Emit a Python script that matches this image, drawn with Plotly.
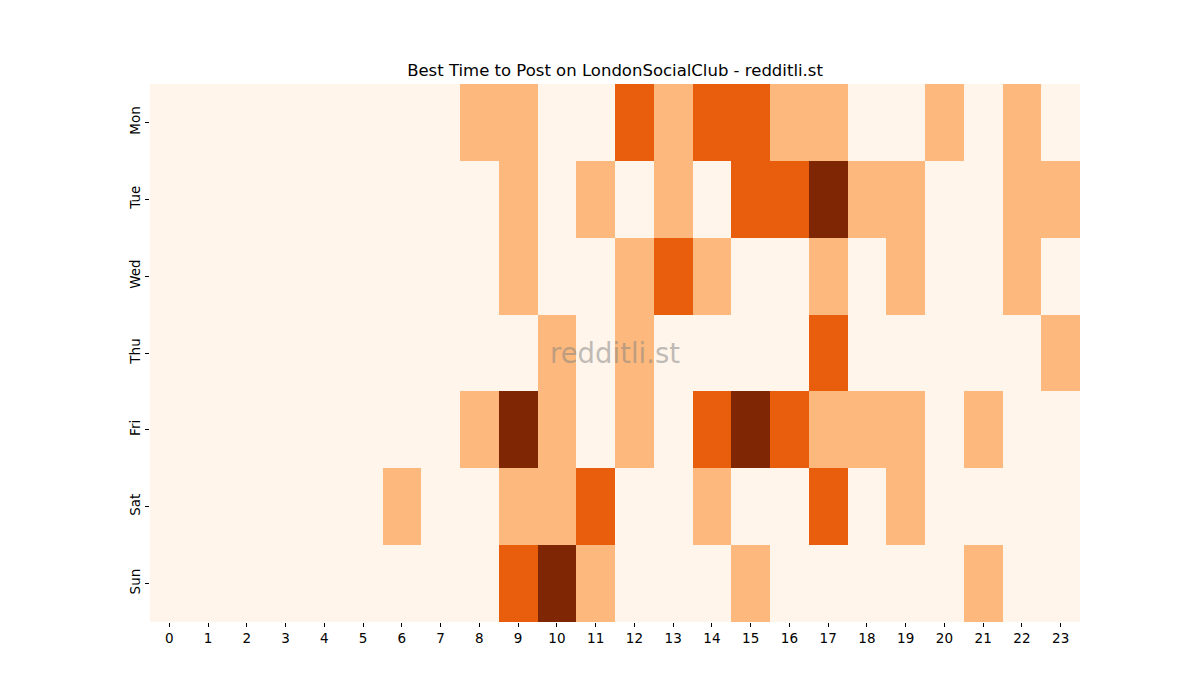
import plotly.graph_objects as go

days = ["Mon", "Tue", "Wed", "Thu", "Fri", "Sat", "Sun"]
hours = list(range(24))

# activity level per hour (0-3)
mon = [0, 0, 0, 0, 0, 0, 0, 0, 1, 1, 0, 0, 2, 1, 2, 2, 1, 1, 0, 0, 1, 0, 1, 0]
tue = [0, 0, 0, 0, 0, 0, 0, 0, 0, 1, 0, 1, 0, 1, 0, 2, 2, 3, 1, 1, 0, 0, 1, 1]
wed = [0, 0, 0, 0, 0, 0, 0, 0, 0, 1, 0, 0, 1, 2, 1, 0, 0, 1, 0, 1, 0, 0, 1, 0]
thu = [0, 0, 0, 0, 0, 0, 0, 0, 0, 0, 1, 0, 1, 0, 0, 0, 0, 2, 0, 0, 0, 0, 0, 1]
fri = [0, 0, 0, 0, 0, 0, 0, 0, 1, 3, 1, 0, 1, 0, 2, 3, 2, 1, 1, 1, 0, 1, 0, 0]
sat = [0, 0, 0, 0, 0, 0, 1, 0, 0, 1, 1, 2, 0, 0, 1, 0, 0, 2, 0, 1, 0, 0, 0, 0]
sun = [0, 0, 0, 0, 0, 0, 0, 0, 0, 2, 3, 1, 0, 0, 0, 1, 0, 0, 0, 0, 0, 1, 0, 0]

z = [mon, tue, wed, thu, fri, sat, sun]

colors = ["#fff5eb", "#fdb97d", "#e95e0d", "#7f2704"]
scale = []
for i, c in enumerate(colors):
    scale.append([i / 4, c])
    scale.append([(i + 1) / 4, c])

fig = go.Figure(go.Heatmap(
    z=z, x=hours, y=days,
    colorscale=scale, zmin=-0.5, zmax=3.5,
    showscale=False, hoverongaps=False,
))

font = "DejaVu Sans, sans-serif"
fig.update_layout(
    width=1200, height=700,
    margin=dict(l=142, r=128, t=76, b=86),
    paper_bgcolor="white", plot_bgcolor="white",
    font=dict(family=font, size=13.5, color="black"),
    title=dict(text="Best Time to Post on LondonSocialClub - redditli.st",
               x=(142 + 465) / 1200, xanchor="center", y=1 - 62 / 700,
               yanchor="middle", font=dict(size=16.5, family=font)),
)
fig.update_xaxes(tickmode="array", tickvals=hours, ticks="outside", ticklen=4,
                 tickcolor="black", showgrid=False, zeroline=False,
                 range=[-0.5, 23.5])
fig.update_yaxes(autorange="reversed", ticks="outside", ticklen=4,
                 tickcolor="black", tickangle=-90, showgrid=False,
                 zeroline=False)

fig.add_annotation(text="redditli.st", xref="paper", yref="paper",
                   x=0.5, y=0.5, showarrow=False,
                   font=dict(size=27.5, color="rgba(128,128,128,0.5)", family=font))

fig.write_html("out.html")
